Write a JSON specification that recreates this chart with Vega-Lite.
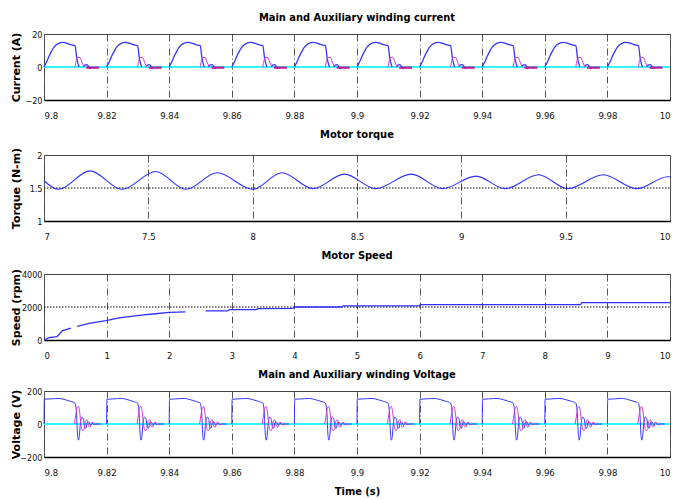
{
  "$schema": "https://vega.github.io/schema/vega-lite/v6.json",
  "padding": {"left": 9, "top": 11, "right": 5, "bottom": 0},
  "spacing": 8,
  "config": {
    "view": {"stroke": "#444", "strokeWidth": 1},
    "axis": {"labelFont": "Liberation Sans Narrow, DejaVu Sans Condensed, sans-serif", "labelFontSize": 9.5, "labelColor": "#111", "ticks": false, "grid": false, "domain": false, "titleFont": "DejaVu Sans", "titleFontWeight": "bold", "titleFontSize": 11, "titleColor": "#000"},
    "axisX": {"grid": true, "gridColor": "#555", "gridDash": [7, 3, 1, 3], "gridWidth": 1, "labelPadding": 10, "domain": true, "domainColor": "#000", "domainWidth": 1.5, "titleFont": "Liberation Sans Narrow, DejaVu Sans Condensed, sans-serif", "titleFontSize": 11, "titlePadding": 9},
    "axisY": {"labelPadding": 2, "labelFontSize": 9, "titleX": -23},
    "title": {"font": "Liberation Sans Narrow, DejaVu Sans Condensed, sans-serif", "fontSize": 11, "fontWeight": "bold", "offset": 7, "color": "#000"}
  },
  "vconcat": [
    {
      "title": "Main and Auxiliary winding current",
      "width": 626, "height": 66,
      "data": {"values": "t,v,s,p\n9.8,0,c,c\n10,0,c,c\n9.8000,0,b,ba0\n9.8008,3,b,ba0\n9.8016,6.5,b,ba0\n9.8024,9.5,b,ba0\n9.8032,12,b,ba0\n9.8045,14.2,b,ba0\n9.8060,14.9,b,ba0\n9.8072,14.5,b,ba0\n9.8085,13.5,b,ba0\n9.8099,12.9,b,ba0\n9.8105,5,b,ba0\n9.8112,0,b,ba0\n9.8126,0,b,bb0\n9.8130,1.2,b,bb0\n9.8137,1.4,b,bb0\n9.8143,0,b,bb0\n9.8146,-1,b,bb0\n9.8150,0,b,bb0\n9.8099,0,m,ma0\n9.8103,4,m,ma0\n9.8107,5.8,m,ma0\n9.8115,5.8,m,ma0\n9.8121,3,m,ma0\n9.8128,0,m,ma0\n9.8135,-0.4,n,mb0\n9.8176,-0.4,n,mb0\n9.8200,0,b,ba1\n9.8208,3,b,ba1\n9.8216,6.5,b,ba1\n9.8224,9.5,b,ba1\n9.8232,12,b,ba1\n9.8245,14.2,b,ba1\n9.8260,14.9,b,ba1\n9.8272,14.5,b,ba1\n9.8285,13.5,b,ba1\n9.8299,12.9,b,ba1\n9.8305,5,b,ba1\n9.8312,0,b,ba1\n9.8326,0,b,bb1\n9.8330,1.2,b,bb1\n9.8337,1.4,b,bb1\n9.8343,0,b,bb1\n9.8346,-1,b,bb1\n9.8350,0,b,bb1\n9.8299,0,m,ma1\n9.8303,4,m,ma1\n9.8307,5.8,m,ma1\n9.8315,5.8,m,ma1\n9.8321,3,m,ma1\n9.8328,0,m,ma1\n9.8335,-0.4,n,mb1\n9.8376,-0.4,n,mb1\n9.8400,0,b,ba2\n9.8408,3,b,ba2\n9.8416,6.5,b,ba2\n9.8424,9.5,b,ba2\n9.8432,12,b,ba2\n9.8445,14.2,b,ba2\n9.8460,14.9,b,ba2\n9.8472,14.5,b,ba2\n9.8485,13.5,b,ba2\n9.8499,12.9,b,ba2\n9.8505,5,b,ba2\n9.8512,0,b,ba2\n9.8526,0,b,bb2\n9.8530,1.2,b,bb2\n9.8537,1.4,b,bb2\n9.8543,0,b,bb2\n9.8546,-1,b,bb2\n9.8550,0,b,bb2\n9.8499,0,m,ma2\n9.8503,4,m,ma2\n9.8507,5.8,m,ma2\n9.8515,5.8,m,ma2\n9.8521,3,m,ma2\n9.8528,0,m,ma2\n9.8535,-0.4,n,mb2\n9.8576,-0.4,n,mb2\n9.8600,0,b,ba3\n9.8608,3,b,ba3\n9.8616,6.5,b,ba3\n9.8624,9.5,b,ba3\n9.8632,12,b,ba3\n9.8645,14.2,b,ba3\n9.8660,14.9,b,ba3\n9.8672,14.5,b,ba3\n9.8685,13.5,b,ba3\n9.8699,12.9,b,ba3\n9.8705,5,b,ba3\n9.8712,0,b,ba3\n9.8726,0,b,bb3\n9.8730,1.2,b,bb3\n9.8737,1.4,b,bb3\n9.8743,0,b,bb3\n9.8746,-1,b,bb3\n9.8750,0,b,bb3\n9.8699,0,m,ma3\n9.8703,4,m,ma3\n9.8707,5.8,m,ma3\n9.8715,5.8,m,ma3\n9.8721,3,m,ma3\n9.8728,0,m,ma3\n9.8735,-0.4,n,mb3\n9.8776,-0.4,n,mb3\n9.8800,0,b,ba4\n9.8808,3,b,ba4\n9.8816,6.5,b,ba4\n9.8824,9.5,b,ba4\n9.8832,12,b,ba4\n9.8845,14.2,b,ba4\n9.8860,14.9,b,ba4\n9.8872,14.5,b,ba4\n9.8885,13.5,b,ba4\n9.8899,12.9,b,ba4\n9.8905,5,b,ba4\n9.8912,0,b,ba4\n9.8926,0,b,bb4\n9.8930,1.2,b,bb4\n9.8937,1.4,b,bb4\n9.8943,0,b,bb4\n9.8946,-1,b,bb4\n9.8950,0,b,bb4\n9.8899,0,m,ma4\n9.8903,4,m,ma4\n9.8907,5.8,m,ma4\n9.8915,5.8,m,ma4\n9.8921,3,m,ma4\n9.8928,0,m,ma4\n9.8935,-0.4,n,mb4\n9.8976,-0.4,n,mb4\n9.9000,0,b,ba5\n9.9008,3,b,ba5\n9.9016,6.5,b,ba5\n9.9024,9.5,b,ba5\n9.9032,12,b,ba5\n9.9045,14.2,b,ba5\n9.9060,14.9,b,ba5\n9.9072,14.5,b,ba5\n9.9085,13.5,b,ba5\n9.9099,12.9,b,ba5\n9.9105,5,b,ba5\n9.9112,0,b,ba5\n9.9126,0,b,bb5\n9.9130,1.2,b,bb5\n9.9137,1.4,b,bb5\n9.9143,0,b,bb5\n9.9146,-1,b,bb5\n9.9150,0,b,bb5\n9.9099,0,m,ma5\n9.9103,4,m,ma5\n9.9107,5.8,m,ma5\n9.9115,5.8,m,ma5\n9.9121,3,m,ma5\n9.9128,0,m,ma5\n9.9135,-0.4,n,mb5\n9.9176,-0.4,n,mb5\n9.9200,0,b,ba6\n9.9208,3,b,ba6\n9.9216,6.5,b,ba6\n9.9224,9.5,b,ba6\n9.9232,12,b,ba6\n9.9245,14.2,b,ba6\n9.9260,14.9,b,ba6\n9.9272,14.5,b,ba6\n9.9285,13.5,b,ba6\n9.9299,12.9,b,ba6\n9.9305,5,b,ba6\n9.9312,0,b,ba6\n9.9326,0,b,bb6\n9.9330,1.2,b,bb6\n9.9337,1.4,b,bb6\n9.9343,0,b,bb6\n9.9346,-1,b,bb6\n9.9350,0,b,bb6\n9.9299,0,m,ma6\n9.9303,4,m,ma6\n9.9307,5.8,m,ma6\n9.9315,5.8,m,ma6\n9.9321,3,m,ma6\n9.9328,0,m,ma6\n9.9335,-0.4,n,mb6\n9.9376,-0.4,n,mb6\n9.9400,0,b,ba7\n9.9408,3,b,ba7\n9.9416,6.5,b,ba7\n9.9424,9.5,b,ba7\n9.9432,12,b,ba7\n9.9445,14.2,b,ba7\n9.9460,14.9,b,ba7\n9.9472,14.5,b,ba7\n9.9485,13.5,b,ba7\n9.9499,12.9,b,ba7\n9.9505,5,b,ba7\n9.9512,0,b,ba7\n9.9526,0,b,bb7\n9.9530,1.2,b,bb7\n9.9537,1.4,b,bb7\n9.9543,0,b,bb7\n9.9546,-1,b,bb7\n9.9550,0,b,bb7\n9.9499,0,m,ma7\n9.9503,4,m,ma7\n9.9507,5.8,m,ma7\n9.9515,5.8,m,ma7\n9.9521,3,m,ma7\n9.9528,0,m,ma7\n9.9535,-0.4,n,mb7\n9.9576,-0.4,n,mb7\n9.9600,0,b,ba8\n9.9608,3,b,ba8\n9.9616,6.5,b,ba8\n9.9624,9.5,b,ba8\n9.9632,12,b,ba8\n9.9645,14.2,b,ba8\n9.9660,14.9,b,ba8\n9.9672,14.5,b,ba8\n9.9685,13.5,b,ba8\n9.9699,12.9,b,ba8\n9.9705,5,b,ba8\n9.9712,0,b,ba8\n9.9726,0,b,bb8\n9.9730,1.2,b,bb8\n9.9737,1.4,b,bb8\n9.9743,0,b,bb8\n9.9746,-1,b,bb8\n9.9750,0,b,bb8\n9.9699,0,m,ma8\n9.9703,4,m,ma8\n9.9707,5.8,m,ma8\n9.9715,5.8,m,ma8\n9.9721,3,m,ma8\n9.9728,0,m,ma8\n9.9735,-0.4,n,mb8\n9.9776,-0.4,n,mb8\n9.9800,0,b,ba9\n9.9808,3,b,ba9\n9.9816,6.5,b,ba9\n9.9824,9.5,b,ba9\n9.9832,12,b,ba9\n9.9845,14.2,b,ba9\n9.9860,14.9,b,ba9\n9.9872,14.5,b,ba9\n9.9885,13.5,b,ba9\n9.9899,12.9,b,ba9\n9.9905,5,b,ba9\n9.9912,0,b,ba9\n9.9926,0,b,bb9\n9.9930,1.2,b,bb9\n9.9937,1.4,b,bb9\n9.9943,0,b,bb9\n9.9946,-1,b,bb9\n9.9950,0,b,bb9\n9.9899,0,m,ma9\n9.9903,4,m,ma9\n9.9907,5.8,m,ma9\n9.9915,5.8,m,ma9\n9.9921,3,m,ma9\n9.9928,0,m,ma9\n9.9935,-0.4,n,mb9\n9.9976,-0.4,n,mb9", "format": {"type": "csv", "parse": {"t": "number", "v": "number"}}},
      "encoding": {
        "x": {"field": "t", "type": "quantitative", "scale": {"domain": [9.8, 10], "nice": false, "zero": false}, "axis": {"values": [9.8, 9.82, 9.84, 9.86, 9.88, 9.9, 9.92, 9.94, 9.96, 9.98, 10], "format": "~r", "title": null}},
        "y": {"field": "v", "type": "quantitative", "scale": {"domain": [-20, 20], "nice": false}, "axis": {"values": [-20, 0, 20], "format": "~r", "title": "Current (A)"}},
        "detail": {"field": "p"}
      },
      "layer": [
        {"transform": [{"filter": "datum.s == 'c'"}], "mark": {"type": "line", "color": "#33f5ff", "strokeWidth": 2}, "encoding": {}},
        {"transform": [{"filter": "datum.s == 'b'"}], "mark": {"type": "line", "color": "#3535ff", "strokeWidth": 1.3, "interpolate": "monotone"}, "encoding": {}},
        {"transform": [{"filter": "datum.s == 'm'"}], "mark": {"type": "line", "color": "#d23cd2", "strokeWidth": 1, "interpolate": "monotone"}, "encoding": {}},
        {"transform": [{"filter": "datum.s == 'n'"}], "mark": {"type": "line", "color": "#c0189a", "strokeWidth": 2.2}, "encoding": {}}
      ]
    },
    {
      "title": "Motor torque",
      "width": 626, "height": 66,
      "data": {"values": "t,v,s\n7,1.5,r\n10,1.5,r\n7.0,1.61,b\n7.07,1.48,b\n7.22,1.76,b\n7.375,1.48,b\n7.535,1.75,b\n7.68,1.48,b\n7.83,1.73,b\n8.0,1.48,b\n8.14,1.73,b\n8.29,1.49,b\n8.44,1.71,b\n8.59,1.49,b\n8.76,1.71,b\n8.91,1.49,b\n9.07,1.68,b\n9.21,1.49,b\n9.37,1.7,b\n9.51,1.49,b\n9.68,1.7,b\n9.84,1.49,b\n9.99,1.67,b\n10,1.67,b", "format": {"type": "csv", "parse": {"t": "number", "v": "number"}}},
      "encoding": {
        "x": {"field": "t", "type": "quantitative", "scale": {"domain": [7, 10], "nice": false, "zero": false}, "axis": {"values": [7, 7.5, 8, 8.5, 9, 9.5, 10], "format": "~r", "title": null}},
        "y": {"field": "v", "type": "quantitative", "scale": {"domain": [1, 2], "nice": false, "zero": false}, "axis": {"values": [1, 1.5, 2], "format": "~r", "title": "Torque (N-m)"}}
      },
      "layer": [
        {"transform": [{"filter": "datum.s == 'r'"}], "mark": {"type": "line", "color": "#000", "strokeWidth": 1, "strokeDash": [1.5, 1.5]}, "encoding": {}},
        {"transform": [{"filter": "datum.s == 'b'"}], "mark": {"type": "line", "color": "#2f2fff", "strokeWidth": 1.1, "interpolate": "monotone"}, "encoding": {}}
      ]
    },
    {
      "title": "Motor Speed",
      "width": 626, "height": 66,
      "data": {"values": "t,v,s,p\n0,2000,r,r\n10,2000,r,r\n0,0,b,a\n0.08,143,b,a\n0.21,200,b,a\n0.29,560,b,a\n0.43,720,b,a\n0.53,830,b,b\n0.72,1010,b,b\n0.99,1180,b,b\n1.2,1340,b,b\n1.52,1490,b,b\n1.78,1590,b,b\n2.0,1680,b,b\n2.26,1700,b,b\n2.58,1760,b,c\n2.93,1760,b,c\n2.96,1840,b,c\n3.39,1840,b,c\n3.42,1900,b,c\n3.97,1920,b,c\n4.0,2000,b,c\n4.76,2000,b,c\n4.78,2070,b,c\n5.99,2070,b,c\n6.01,2150,b,c\n8.57,2150,b,c\n8.59,2260,b,c\n10,2260,b,c", "format": {"type": "csv", "parse": {"t": "number", "v": "number"}}},
      "encoding": {
        "x": {"field": "t", "type": "quantitative", "scale": {"domain": [0, 10], "nice": false}, "axis": {"values": [0, 1, 2, 3, 4, 5, 6, 7, 8, 9, 10], "format": "~r", "title": null}},
        "y": {"field": "v", "type": "quantitative", "scale": {"domain": [0, 4000], "nice": false}, "axis": {"values": [0, 2000, 4000], "format": "~r", "title": "Speed (rpm)"}},
        "detail": {"field": "p"}
      },
      "layer": [
        {"transform": [{"filter": "datum.s == 'r'"}], "mark": {"type": "line", "color": "#000", "strokeWidth": 1, "strokeDash": [1.5, 1.5]}, "encoding": {}},
        {"transform": [{"filter": "datum.s == 'b'"}], "mark": {"type": "line", "color": "#2f2fff", "strokeWidth": 1.3}, "encoding": {}}
      ]
    },
    {
      "title": "Main and Auxiliary winding Voltage",
      "width": 626, "height": 66,
      "data": {"values": "t,v,s,p\n9.8,0,c,c\n10,0,c,c\n9.8000,0,b,b0\n9.8001,150,b,b0\n9.8020,152,b,b0\n9.8048,155,b,b0\n9.8068,147,b,b0\n9.8085,137,b,b0\n9.8099,127,b,b0\n9.8104,60,b,b0\n9.8107,-60,b,b0\n9.8110,-98,b,b0\n9.8113,-70,b,b0\n9.8116,0,b,b0\n9.8121,42,b,b0\n9.8126,30,b,b0\n9.8130,-20,b,b0\n9.8134,-25,b,b0\n9.8138,10,b,b0\n9.8143,12,b,b0\n9.8148,-8,b,b0\n9.8154,6,b,b0\n9.8160,-3,b,b0\n9.8166,0,b,b0\n9.8183,0,b,b0\n9.8097,0,m,m0\n9.8102,60,m,m0\n9.8106,100,m,m0\n9.8110,106,m,m0\n9.8114,70,m,m0\n9.8118,0,m,m0\n9.8123,-40,m,m0\n9.8128,-35,m,m0\n9.8133,20,m,m0\n9.8138,25,m,m0\n9.8143,-15,m,m0\n9.8148,-18,m,m0\n9.8153,10,m,m0\n9.8158,8,m,m0\n9.8163,-4,m,m0\n9.8170,0,m,m0\n9.8200,0,b,b1\n9.8201,150,b,b1\n9.8220,152,b,b1\n9.8248,155,b,b1\n9.8268,147,b,b1\n9.8285,137,b,b1\n9.8299,127,b,b1\n9.8304,60,b,b1\n9.8307,-60,b,b1\n9.8310,-98,b,b1\n9.8313,-70,b,b1\n9.8316,0,b,b1\n9.8321,42,b,b1\n9.8326,30,b,b1\n9.8330,-20,b,b1\n9.8334,-25,b,b1\n9.8338,10,b,b1\n9.8343,12,b,b1\n9.8348,-8,b,b1\n9.8354,6,b,b1\n9.8360,-3,b,b1\n9.8366,0,b,b1\n9.8383,0,b,b1\n9.8297,0,m,m1\n9.8302,60,m,m1\n9.8306,100,m,m1\n9.8310,106,m,m1\n9.8314,70,m,m1\n9.8318,0,m,m1\n9.8323,-40,m,m1\n9.8328,-35,m,m1\n9.8333,20,m,m1\n9.8338,25,m,m1\n9.8343,-15,m,m1\n9.8348,-18,m,m1\n9.8353,10,m,m1\n9.8358,8,m,m1\n9.8363,-4,m,m1\n9.8370,0,m,m1\n9.8400,0,b,b2\n9.8401,150,b,b2\n9.8420,152,b,b2\n9.8448,155,b,b2\n9.8468,147,b,b2\n9.8485,137,b,b2\n9.8499,127,b,b2\n9.8504,60,b,b2\n9.8507,-60,b,b2\n9.8510,-98,b,b2\n9.8513,-70,b,b2\n9.8516,0,b,b2\n9.8521,42,b,b2\n9.8526,30,b,b2\n9.8530,-20,b,b2\n9.8534,-25,b,b2\n9.8538,10,b,b2\n9.8543,12,b,b2\n9.8548,-8,b,b2\n9.8554,6,b,b2\n9.8560,-3,b,b2\n9.8566,0,b,b2\n9.8583,0,b,b2\n9.8497,0,m,m2\n9.8502,60,m,m2\n9.8506,100,m,m2\n9.8510,106,m,m2\n9.8514,70,m,m2\n9.8518,0,m,m2\n9.8523,-40,m,m2\n9.8528,-35,m,m2\n9.8533,20,m,m2\n9.8538,25,m,m2\n9.8543,-15,m,m2\n9.8548,-18,m,m2\n9.8553,10,m,m2\n9.8558,8,m,m2\n9.8563,-4,m,m2\n9.8570,0,m,m2\n9.8600,0,b,b3\n9.8601,150,b,b3\n9.8620,152,b,b3\n9.8648,155,b,b3\n9.8668,147,b,b3\n9.8685,137,b,b3\n9.8699,127,b,b3\n9.8704,60,b,b3\n9.8707,-60,b,b3\n9.8710,-98,b,b3\n9.8713,-70,b,b3\n9.8716,0,b,b3\n9.8721,42,b,b3\n9.8726,30,b,b3\n9.8730,-20,b,b3\n9.8734,-25,b,b3\n9.8738,10,b,b3\n9.8743,12,b,b3\n9.8748,-8,b,b3\n9.8754,6,b,b3\n9.8760,-3,b,b3\n9.8766,0,b,b3\n9.8783,0,b,b3\n9.8697,0,m,m3\n9.8702,60,m,m3\n9.8706,100,m,m3\n9.8710,106,m,m3\n9.8714,70,m,m3\n9.8718,0,m,m3\n9.8723,-40,m,m3\n9.8728,-35,m,m3\n9.8733,20,m,m3\n9.8738,25,m,m3\n9.8743,-15,m,m3\n9.8748,-18,m,m3\n9.8753,10,m,m3\n9.8758,8,m,m3\n9.8763,-4,m,m3\n9.8770,0,m,m3\n9.8800,0,b,b4\n9.8801,150,b,b4\n9.8820,152,b,b4\n9.8848,155,b,b4\n9.8868,147,b,b4\n9.8885,137,b,b4\n9.8899,127,b,b4\n9.8904,60,b,b4\n9.8907,-60,b,b4\n9.8910,-98,b,b4\n9.8913,-70,b,b4\n9.8916,0,b,b4\n9.8921,42,b,b4\n9.8926,30,b,b4\n9.8930,-20,b,b4\n9.8934,-25,b,b4\n9.8938,10,b,b4\n9.8943,12,b,b4\n9.8948,-8,b,b4\n9.8954,6,b,b4\n9.8960,-3,b,b4\n9.8966,0,b,b4\n9.8983,0,b,b4\n9.8897,0,m,m4\n9.8902,60,m,m4\n9.8906,100,m,m4\n9.8910,106,m,m4\n9.8914,70,m,m4\n9.8918,0,m,m4\n9.8923,-40,m,m4\n9.8928,-35,m,m4\n9.8933,20,m,m4\n9.8938,25,m,m4\n9.8943,-15,m,m4\n9.8948,-18,m,m4\n9.8953,10,m,m4\n9.8958,8,m,m4\n9.8963,-4,m,m4\n9.8970,0,m,m4\n9.9000,0,b,b5\n9.9001,150,b,b5\n9.9020,152,b,b5\n9.9048,155,b,b5\n9.9068,147,b,b5\n9.9085,137,b,b5\n9.9099,127,b,b5\n9.9104,60,b,b5\n9.9107,-60,b,b5\n9.9110,-98,b,b5\n9.9113,-70,b,b5\n9.9116,0,b,b5\n9.9121,42,b,b5\n9.9126,30,b,b5\n9.9130,-20,b,b5\n9.9134,-25,b,b5\n9.9138,10,b,b5\n9.9143,12,b,b5\n9.9148,-8,b,b5\n9.9154,6,b,b5\n9.9160,-3,b,b5\n9.9166,0,b,b5\n9.9183,0,b,b5\n9.9097,0,m,m5\n9.9102,60,m,m5\n9.9106,100,m,m5\n9.9110,106,m,m5\n9.9114,70,m,m5\n9.9118,0,m,m5\n9.9123,-40,m,m5\n9.9128,-35,m,m5\n9.9133,20,m,m5\n9.9138,25,m,m5\n9.9143,-15,m,m5\n9.9148,-18,m,m5\n9.9153,10,m,m5\n9.9158,8,m,m5\n9.9163,-4,m,m5\n9.9170,0,m,m5\n9.9200,0,b,b6\n9.9201,150,b,b6\n9.9220,152,b,b6\n9.9248,155,b,b6\n9.9268,147,b,b6\n9.9285,137,b,b6\n9.9299,127,b,b6\n9.9304,60,b,b6\n9.9307,-60,b,b6\n9.9310,-98,b,b6\n9.9313,-70,b,b6\n9.9316,0,b,b6\n9.9321,42,b,b6\n9.9326,30,b,b6\n9.9330,-20,b,b6\n9.9334,-25,b,b6\n9.9338,10,b,b6\n9.9343,12,b,b6\n9.9348,-8,b,b6\n9.9354,6,b,b6\n9.9360,-3,b,b6\n9.9366,0,b,b6\n9.9383,0,b,b6\n9.9297,0,m,m6\n9.9302,60,m,m6\n9.9306,100,m,m6\n9.9310,106,m,m6\n9.9314,70,m,m6\n9.9318,0,m,m6\n9.9323,-40,m,m6\n9.9328,-35,m,m6\n9.9333,20,m,m6\n9.9338,25,m,m6\n9.9343,-15,m,m6\n9.9348,-18,m,m6\n9.9353,10,m,m6\n9.9358,8,m,m6\n9.9363,-4,m,m6\n9.9370,0,m,m6\n9.9400,0,b,b7\n9.9401,150,b,b7\n9.9420,152,b,b7\n9.9448,155,b,b7\n9.9468,147,b,b7\n9.9485,137,b,b7\n9.9499,127,b,b7\n9.9504,60,b,b7\n9.9507,-60,b,b7\n9.9510,-98,b,b7\n9.9513,-70,b,b7\n9.9516,0,b,b7\n9.9521,42,b,b7\n9.9526,30,b,b7\n9.9530,-20,b,b7\n9.9534,-25,b,b7\n9.9538,10,b,b7\n9.9543,12,b,b7\n9.9548,-8,b,b7\n9.9554,6,b,b7\n9.9560,-3,b,b7\n9.9566,0,b,b7\n9.9583,0,b,b7\n9.9497,0,m,m7\n9.9502,60,m,m7\n9.9506,100,m,m7\n9.9510,106,m,m7\n9.9514,70,m,m7\n9.9518,0,m,m7\n9.9523,-40,m,m7\n9.9528,-35,m,m7\n9.9533,20,m,m7\n9.9538,25,m,m7\n9.9543,-15,m,m7\n9.9548,-18,m,m7\n9.9553,10,m,m7\n9.9558,8,m,m7\n9.9563,-4,m,m7\n9.9570,0,m,m7\n9.9600,0,b,b8\n9.9601,150,b,b8\n9.9620,152,b,b8\n9.9648,155,b,b8\n9.9668,147,b,b8\n9.9685,137,b,b8\n9.9699,127,b,b8\n9.9704,60,b,b8\n9.9707,-60,b,b8\n9.9710,-98,b,b8\n9.9713,-70,b,b8\n9.9716,0,b,b8\n9.9721,42,b,b8\n9.9726,30,b,b8\n9.9730,-20,b,b8\n9.9734,-25,b,b8\n9.9738,10,b,b8\n9.9743,12,b,b8\n9.9748,-8,b,b8\n9.9754,6,b,b8\n9.9760,-3,b,b8\n9.9766,0,b,b8\n9.9783,0,b,b8\n9.9697,0,m,m8\n9.9702,60,m,m8\n9.9706,100,m,m8\n9.9710,106,m,m8\n9.9714,70,m,m8\n9.9718,0,m,m8\n9.9723,-40,m,m8\n9.9728,-35,m,m8\n9.9733,20,m,m8\n9.9738,25,m,m8\n9.9743,-15,m,m8\n9.9748,-18,m,m8\n9.9753,10,m,m8\n9.9758,8,m,m8\n9.9763,-4,m,m8\n9.9770,0,m,m8\n9.9800,0,b,b9\n9.9801,150,b,b9\n9.9820,152,b,b9\n9.9848,155,b,b9\n9.9868,147,b,b9\n9.9885,137,b,b9\n9.9899,127,b,b9\n9.9904,60,b,b9\n9.9907,-60,b,b9\n9.9910,-98,b,b9\n9.9913,-70,b,b9\n9.9916,0,b,b9\n9.9921,42,b,b9\n9.9926,30,b,b9\n9.9930,-20,b,b9\n9.9934,-25,b,b9\n9.9938,10,b,b9\n9.9943,12,b,b9\n9.9948,-8,b,b9\n9.9954,6,b,b9\n9.9960,-3,b,b9\n9.9966,0,b,b9\n9.9983,0,b,b9\n9.9897,0,m,m9\n9.9902,60,m,m9\n9.9906,100,m,m9\n9.9910,106,m,m9\n9.9914,70,m,m9\n9.9918,0,m,m9\n9.9923,-40,m,m9\n9.9928,-35,m,m9\n9.9933,20,m,m9\n9.9938,25,m,m9\n9.9943,-15,m,m9\n9.9948,-18,m,m9\n9.9953,10,m,m9\n9.9958,8,m,m9\n9.9963,-4,m,m9\n9.9970,0,m,m9", "format": {"type": "csv", "parse": {"t": "number", "v": "number"}}},
      "encoding": {
        "x": {"field": "t", "type": "quantitative", "scale": {"domain": [9.8, 10], "nice": false, "zero": false}, "axis": {"values": [9.8, 9.82, 9.84, 9.86, 9.88, 9.9, 9.92, 9.94, 9.96, 9.98, 10], "format": "~r", "title": "Time (s)"}},
        "y": {"field": "v", "type": "quantitative", "scale": {"domain": [-200, 200], "nice": false}, "axis": {"values": [-200, 0, 200], "format": "~r", "title": "Voltage (V)"}},
        "detail": {"field": "p"}
      },
      "layer": [
        {"transform": [{"filter": "datum.s == 'c'"}], "mark": {"type": "line", "color": "#33f5ff", "strokeWidth": 2}, "encoding": {}},
        {"transform": [{"filter": "datum.s == 'b'"}], "mark": {"type": "line", "color": "#3535ff", "strokeWidth": 1, "interpolate": "monotone"}, "encoding": {}},
        {"transform": [{"filter": "datum.s == 'm'"}], "mark": {"type": "line", "color": "#d23cd2", "strokeWidth": 1, "interpolate": "monotone"}, "encoding": {}}
      ]
    }
  ]
}
